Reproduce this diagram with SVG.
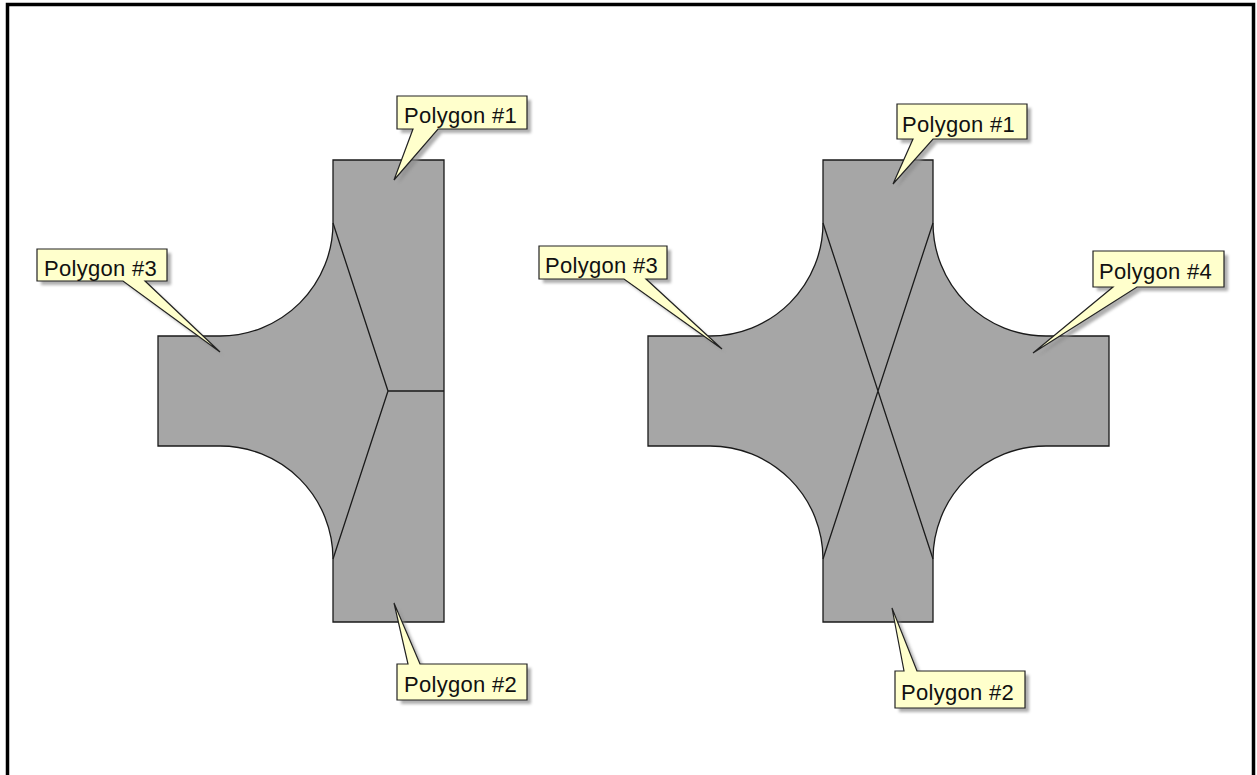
<svg xmlns="http://www.w3.org/2000/svg" width="1257" height="775" viewBox="0 0 1257 775">
<style>
.shape{fill:#a6a6a6;stroke:#1a1a1a;stroke-width:1.3;stroke-linejoin:miter}
.div{fill:none;stroke:#1a1a1a;stroke-width:1.3}
.co{fill:#ffffcc;stroke:#222;stroke-width:1.2;stroke-linejoin:miter}
.sh{fill:#8c8c8c;opacity:0.7;filter:url(#blur)}
.lbl{font-family:"Liberation Sans",Arial,sans-serif;font-size:22px;letter-spacing:0.3px;fill:#111}
</style>
<defs>
<filter id="blur" x="-10%" y="-10%" width="120%" height="120%"><feGaussianBlur stdDeviation="1.5"/></filter>
</defs>
<rect x="0" y="0" width="1257" height="775" fill="#fff"/>
<rect x="7.5" y="4.5" width="1246" height="800" fill="none" stroke="#000" stroke-width="3.5"/>

<g id="left-shape">
<path class="shape" d="M333,160 H444 V622 H333 V559 A113,113 0 0 0 220,446 H158 V336 H220 A113,113 0 0 0 333,223 Z"/>
</g>
<g id="right-shape">
<path class="shape" d="M823,160 H933 V223 A113,113 0 0 0 1046,336 H1109 V446 H1046 A113,113 0 0 0 933,559 V622 H823 V559 A113,113 0 0 0 710,446 H648 V336 H710 A113,113 0 0 0 823,223 Z"/>
</g>
<g id="connectors">
<path class="div" d="M333,223 L388,391 L444,391 M388,391 L333,559"/>
<path class="div" d="M823,223 L933,559 M933,223 L823,559"/>
</g>

<g id="L1">
<path class="sh" transform="translate(4,4)" d="M397,96 H527 V129 H438 L394,180 L413,129 H397 Z"/>
<path class="co" d="M397,96 H527 V129 H438 L394,180 L413,129 H397 Z"/>
<text class="lbl" x="404" y="123">Polygon #1</text>
</g>
<g id="L3">
<path class="sh" transform="translate(4,4)" d="M37,249 H167 V281 H145 L220,352 L123,281 H37 Z"/>
<path class="co" d="M37,249 H167 V281 H145 L220,352 L123,281 H37 Z"/>
<text class="lbl" x="44" y="276">Polygon #3</text>
</g>
<g id="L2">
<path class="sh" transform="translate(4,4)" d="M397,664 H408 L394,603 L420,664 H527 V700 H397 Z"/>
<path class="co" d="M397,664 H408 L394,603 L420,664 H527 V700 H397 Z"/>
<text class="lbl" x="404" y="692">Polygon #2</text>
</g>
<g id="R1">
<path class="sh" transform="translate(4,4)" d="M897,104 H1027 V139 H933 L893,184 L913,139 H897 Z"/>
<path class="co" d="M897,104 H1027 V139 H933 L893,184 L913,139 H897 Z"/>
<text class="lbl" x="902" y="132">Polygon #1</text>
</g>
<g id="R3">
<path class="sh" transform="translate(4,4)" d="M539,246 H667 V279 H646 L722,349 L624,279 H539 Z"/>
<path class="co" d="M539,246 H667 V279 H646 L722,349 L624,279 H539 Z"/>
<text class="lbl" x="545" y="273">Polygon #3</text>
</g>
<g id="R4">
<path class="sh" transform="translate(4,4)" d="M1093,251 H1224 V287 H1137 L1033,353 L1113,287 H1093 Z"/>
<path class="co" d="M1093,251 H1224 V287 H1137 L1033,353 L1113,287 H1093 Z"/>
<text class="lbl" x="1099" y="279">Polygon #4</text>
</g>
<g id="R2">
<path class="sh" transform="translate(4,4)" d="M895,671 H904 L892,608 L917,671 H1025 V708 H895 Z"/>
<path class="co" d="M895,671 H904 L892,608 L917,671 H1025 V708 H895 Z"/>
<text class="lbl" x="901" y="700">Polygon #2</text>
</g>
</svg>
